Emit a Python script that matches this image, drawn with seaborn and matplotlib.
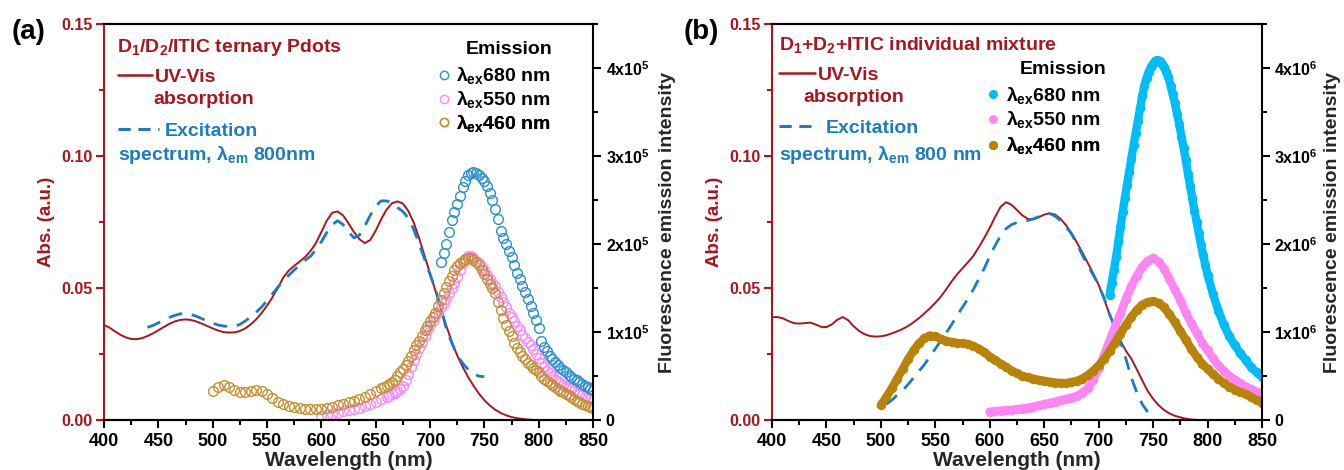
import matplotlib
matplotlib.use("Agg")
import matplotlib.pyplot as plt
from matplotlib.lines import Line2D
from matplotlib.ticker import MultipleLocator, FormatStrFormatter
import seaborn as sns

# ---------------- panel (a): D1/D2/ITIC ternary Pdots ----------------
a_abs_wl = list(range(400, 805, 5))
a_abs = [
    0.0360, 0.0350, 0.0336, 0.0323, 0.0313, 0.0307, 0.0306, 0.0310, 0.0318, 0.0328,
    0.0340, 0.0352, 0.0364, 0.0373, 0.0379, 0.0381, 0.0379, 0.0373, 0.0365, 0.0356,
    0.0347, 0.0339, 0.0333, 0.0331, 0.0332, 0.0337, 0.0347, 0.0362, 0.0381, 0.0405,
    0.0433, 0.0465, 0.0500, 0.0540, 0.0566, 0.0584, 0.0600, 0.0617, 0.0640, 0.0670,
    0.0712, 0.0755, 0.0785, 0.0790, 0.0775, 0.0745, 0.0712, 0.0685, 0.0670, 0.0682,
    0.0717, 0.0760, 0.0797, 0.0821, 0.0828, 0.0820, 0.0792, 0.0748, 0.0688, 0.0622,
    0.0555, 0.0490, 0.0422, 0.0357, 0.0297, 0.0245, 0.0202, 0.0163, 0.0130, 0.0100,
    0.0075, 0.0055, 0.0039, 0.0027, 0.0018, 0.0011, 0.0007, 0.0004, 0.0002, 0.0000,
    0.0000,
]
a_exc_wl = list(range(440, 755, 5))
a_exc = [
    0.0351, 0.0358, 0.0368, 0.0378, 0.0388, 0.0396, 0.0402, 0.0404, 0.0400, 0.0393,
    0.0384, 0.0375, 0.0367, 0.0360, 0.0356, 0.0354, 0.0355, 0.0362, 0.0375, 0.0390,
    0.0408, 0.0428, 0.0452, 0.0478, 0.0503, 0.0527, 0.0548, 0.0568, 0.0588, 0.0605,
    0.0620, 0.0645, 0.0675, 0.0710, 0.0740, 0.0755, 0.0740, 0.0712, 0.0690, 0.0700,
    0.0735, 0.0775, 0.0810, 0.0830, 0.0830, 0.0822, 0.0805, 0.0790, 0.0765, 0.0722,
    0.0668, 0.0610, 0.0552, 0.0495, 0.0425, 0.0345, 0.0292, 0.0245, 0.0215, 0.0192,
    0.0175, 0.0166, 0.0164,
]
# emission readings: 5 nm steps on the flat part, 2.5 nm steps around the band
a_em460_wl = [500 + 5 * i for i in range(32)] + [657.5 + 2.5 * i for i in range(78)]
a_em460 = [
    3.3e4, 3.8e4, 4.0e4, 3.8e4, 3.4e4, 3.2e4, 3.2e4, 3.3e4, 3.4e4, 3.3e4,
    2.9e4, 2.5e4, 2.1e4, 1.8e4, 1.6e4, 1.45e4, 1.35e4, 1.3e4, 1.25e4, 1.22e4,
    1.25e4, 1.35e4, 1.5e4, 1.65e4, 1.8e4, 2.0e4, 2.2e4, 2.4e4, 2.6e4, 2.9e4,
    3.3e4, 3.6e4,
    3.75e4, 3.9e4, 4.1e4, 4.3e4, 4.6e4, 5.0e4, 5.4e4, 5.8e4, 6.2e4, 6.7e4,
    7.3e4, 7.9e4, 8.5e4, 9.0e4, 9.6e4, 1.02e5, 1.07e5, 1.12e5, 1.17e5, 1.22e5,
    1.29e5, 1.36e5, 1.44e5, 1.51e5, 1.58e5, 1.64e5, 1.70e5, 1.75e5, 1.78e5, 1.81e5,
    1.83e5, 1.84e5, 1.84e5, 1.82e5, 1.79e5, 1.76e5, 1.71e5, 1.66e5, 1.60e5, 1.55e5,
    1.50e5, 1.44e5, 1.34e5, 1.25e5, 1.16e5, 1.08e5, 1.01e5, 9.5e4, 8.8e4, 8.2e4,
    7.7e4, 7.3e4, 6.9e4, 6.5e4, 6.2e4, 5.9e4, 5.65e4, 5.4e4, 5.0e4, 4.7e4,
    4.45e4, 4.2e4, 3.95e4, 3.7e4, 3.5e4, 3.3e4, 3.15e4, 3.0e4, 2.8e4, 2.6e4,
    2.4e4, 2.2e4, 2.0e4, 1.8e4, 1.65e4, 1.55e4, 1.45e4, 1.4e4,
]
a_em550_wl = [600 + 5 * i for i in range(13)] + [662.5 + 2.5 * i for i in range(76)]
a_em550 = [
    4.0e3, 5.5e3, 7.0e3, 8.5e3, 1.0e4, 1.12e4, 1.25e4, 1.4e4, 1.6e4, 1.85e4,
    2.1e4, 2.35e4, 2.6e4,
    2.75e4, 2.9e4, 3.1e4, 3.3e4, 3.55e4, 3.9e4, 4.5e4, 5.2e4, 6.0e4, 6.8e4,
    7.5e4, 8.2e4, 8.9e4, 9.6e4, 1.02e5, 1.08e5, 1.13e5, 1.18e5, 1.23e5, 1.28e5,
    1.33e5, 1.38e5, 1.44e5, 1.5e5, 1.56e5, 1.62e5, 1.70e5, 1.78e5, 1.83e5, 1.86e5,
    1.86e5, 1.84e5, 1.81e5, 1.78e5, 1.74e5, 1.7e5, 1.65e5, 1.6e5, 1.56e5, 1.52e5,
    1.46e5, 1.4e5, 1.34e5, 1.28e5, 1.22e5, 1.17e5, 1.12e5, 1.07e5, 1.02e5, 9.7e4,
    9.3e4, 8.9e4, 8.5e4, 8.1e4, 7.5e4, 7.0e4, 6.5e4, 6.0e4, 5.6e4, 5.3e4,
    5.0e4, 4.7e4, 4.45e4, 4.2e4, 4.0e4, 3.8e4, 3.65e4, 3.5e4, 3.3e4, 3.1e4,
    2.95e4, 2.8e4, 2.65e4, 2.5e4, 2.4e4, 2.3e4,
]
a_em680_wl = [710 + 2.5 * i for i in range(57)]
a_em680 = [
    1.8e5, 1.9e5, 2.0e5, 2.14e5, 2.27e5, 2.36e5, 2.45e5, 2.55e5, 2.65e5, 2.72e5,
    2.78e5, 2.81e5, 2.82e5, 2.81e5, 2.78e5, 2.75e5, 2.72e5, 2.66e5, 2.58e5, 2.5e5,
    2.4e5, 2.28e5, 2.15e5, 2.07e5, 2.0e5, 1.92e5, 1.85e5, 1.76e5, 1.67e5, 1.6e5,
    1.52e5, 1.45e5, 1.38e5, 1.3e5, 1.22e5, 1.14e5, 1.05e5, 9.0e4, 8.3e4, 7.8e4,
    7.3e4, 6.95e4, 6.6e4, 6.25e4, 5.9e4, 5.65e4, 5.4e4, 5.15e4, 4.9e4, 4.7e4,
    4.5e4, 4.3e4, 4.1e4, 3.9e4, 3.7e4, 3.55e4, 3.4e4,
]

# ---------------- panel (b): D1+D2+ITIC individual mixture ----------------
b_abs_wl = list(range(400, 800, 5))
b_abs = [
    0.0389, 0.0390, 0.0385, 0.0375, 0.0367, 0.0365, 0.0367, 0.0369, 0.0362, 0.0353,
    0.0352, 0.0362, 0.0380, 0.0390, 0.0378, 0.0355, 0.0337, 0.0325, 0.0318, 0.0316,
    0.0317, 0.0321, 0.0328, 0.0336, 0.0345, 0.0356, 0.0370, 0.0386, 0.0404, 0.0423,
    0.0444, 0.0467, 0.0495, 0.0525, 0.0552, 0.0575, 0.0598, 0.0622, 0.0655, 0.0690,
    0.0728, 0.0770, 0.0808, 0.0825, 0.0815, 0.0795, 0.0775, 0.0762, 0.0760, 0.0768,
    0.0778, 0.0783, 0.0778, 0.0762, 0.0738, 0.0708, 0.0672, 0.0635, 0.0595, 0.0555,
    0.0512, 0.0458, 0.0400, 0.0350, 0.0300, 0.0262, 0.0232, 0.0192, 0.0150, 0.0110,
    0.0080, 0.0056, 0.0038, 0.0025, 0.0016, 0.0010, 0.0005, 0.0002, 0.0000, 0.0000,
]
b_exc_wl = list(range(505, 750, 5))
b_exc = [
    0.0060, 0.0075, 0.0095, 0.0112, 0.0135, 0.0160, 0.0185, 0.0210, 0.0240, 0.0270,
    0.0300, 0.0330, 0.0362, 0.0395, 0.0428, 0.0460, 0.0495, 0.0535, 0.0575, 0.0620,
    0.0662, 0.0698, 0.0725, 0.0740, 0.0748, 0.0752, 0.0756, 0.0762, 0.0770, 0.0778,
    0.0782, 0.0772, 0.0755, 0.0732, 0.0705, 0.0668, 0.0625, 0.0585, 0.0550, 0.0510,
    0.0462, 0.0400, 0.0350, 0.0298, 0.0232, 0.0160, 0.0105, 0.0060, 0.0030,
]
b_em460_wl = list(range(500, 855, 5))
b_em460 = [
    1.7e5, 2.6e5, 3.6e5, 4.7e5, 5.8e5, 6.9e5, 7.9e5, 8.7e5, 9.3e5, 9.6e5,
    9.5e5, 9.2e5, 9.0e5, 8.85e5, 8.75e5, 8.7e5, 8.6e5, 8.4e5, 8.1e5, 7.7e5,
    7.2e5, 6.8e5, 6.4e5, 6.0e5, 5.6e5, 5.3e5, 5.0e5, 4.85e5, 4.7e5, 4.55e5,
    4.45e5, 4.35e5, 4.25e5, 4.2e5, 4.2e5, 4.3e5, 4.45e5, 4.7e5, 5.1e5, 5.6e5,
    6.2e5, 6.9e5, 7.8e5, 8.8e5, 9.8e5, 1.08e6, 1.17e6, 1.25e6, 1.31e6, 1.34e6,
    1.35e6, 1.33e6, 1.28e6, 1.2e6, 1.11e6, 1.01e6, 9.1e5, 8.1e5, 7.2e5, 6.4e5,
    5.8e5, 5.2e5, 4.7e5, 4.2e5, 3.8e5, 3.45e5, 3.15e5, 2.95e5, 2.6e5, 2.25e5,
    1.95e5,
]
b_em550_wl = list(range(600, 855, 5))
b_em550 = [
    9.5e4, 1.0e5, 1.05e5, 1.1e5, 1.15e5, 1.22e5, 1.3e5, 1.4e5, 1.52e5, 1.65e5,
    1.8e5, 1.95e5, 2.1e5, 2.25e5, 2.4e5, 2.55e5, 2.75e5, 3.1e5, 3.6e5, 4.6e5,
    5.9e5, 7.4e5, 9.0e5, 1.06e6, 1.21e6, 1.38e6, 1.52e6, 1.64e6, 1.74e6, 1.81e6,
    1.84e6, 1.80e6, 1.72e6, 1.6e6, 1.48e6, 1.36e6, 1.22e6, 1.1e6, 9.9e5, 8.8e5,
    7.9e5, 7.0e5, 6.2e5, 5.6e5, 5.0e5, 4.6e5, 4.2e5, 3.8e5, 3.5e5, 3.2e5,
    3.0e5,
]
b_em680_wl = list(range(710, 802, 2)) + list(range(805, 855, 5))
b_em680 = [
    1.42e6, 1.56e6, 1.71e6, 1.85e6, 2.02e6, 2.19e6, 2.36e6, 2.52e6, 2.67e6, 2.82e6,
    2.97e6, 3.12e6, 3.26e6, 3.40e6, 3.54e6, 3.68e6, 3.80e6, 3.89e6, 3.96e6, 4.01e6,
    4.05e6, 4.08e6, 4.09e6, 4.08e6, 4.05e6, 4.01e6, 3.96e6, 3.90e6, 3.80e6, 3.70e6,
    3.60e6, 3.48e6, 3.36e6, 3.22e6, 3.09e6, 2.95e6, 2.80e6, 2.66e6, 2.52e6, 2.38e6,
    2.25e6, 2.12e6, 1.99e6, 1.87e6, 1.76e6, 1.65e6,
    1.43e6, 1.24e6, 1.08e6, 9.5e5, 8.5e5, 7.6e5, 6.8e5, 6.0e5, 5.4e5, 4.9e5,
]

# legend / label texts
emission_labels = [r"$\lambda_{ex}$680 nm", r"$\lambda_{ex}$550 nm", r"$\lambda_{ex}$460 nm"]

# ---------------- styling ----------------
RED = "#a8161e"
BLUE = "#1b7cc0"
A_COLORS = ["#2b8fd0", "#ff88ff", "#c4902f"]     # 680, 550, 460 (open circles)
B_COLORS = ["#00bdf7", "#ff85f5", "#b98209"]     # 680, 550, 460 (filled dots)

sns.set_theme(style="ticks")
FONT = "Liberation Sans"
plt.rcParams.update({
    "font.family": [FONT, "DejaVu Sans"],
    "font.weight": "bold",
    "axes.labelweight": "bold",
    "mathtext.fontset": "custom",
    "mathtext.rm": f"{FONT}:bold",
    "mathtext.it": f"{FONT}:bold",
    "mathtext.bf": f"{FONT}:bold",
    "mathtext.sf": f"{FONT}:bold",
    "axes.edgecolor": "black",
    "axes.linewidth": 1.5,
})

W, H = 1344, 470


def fx(px):
    return px / W


def fy(py):
    return 1 - py / H


fig = plt.figure(figsize=(W / 100, H / 100), dpi=100)
fig.patch.set_facecolor("white")


def style_axes(ax, ax2, top, exp, rpad):
    ax.set_xlim(400, 850)
    ax.set_ylim(0, 0.15)
    ax2.set_ylim(0, top)
    ax.set_xlabel("Wavelength (nm)", fontsize=15, labelpad=1)
    ax.set_ylabel("Abs. (a.u.)", color=RED, fontsize=13.5, labelpad=5)
    ax2.set_ylabel("Fluorescence emission intensity", fontsize=14, labelpad=rpad)
    ax.xaxis.set_major_locator(MultipleLocator(50))
    ax.xaxis.set_minor_locator(MultipleLocator(25))
    ax.yaxis.set_major_locator(MultipleLocator(0.05))
    ax.yaxis.set_minor_locator(MultipleLocator(0.025))
    ax.yaxis.set_major_formatter(FormatStrFormatter("%.2f"))
    ax2.set_yticks([k * 10 ** exp for k in range(5)],
                   labels=["0"] + [f"{k}x10$^{exp}$" for k in range(1, 5)])
    ax2.yaxis.set_minor_locator(MultipleLocator(0.5 * 10 ** exp))

    ax.tick_params(axis="x", which="both", direction="out", width=1.5,
                   colors="black", labelsize=13, pad=3)
    ax.tick_params(axis="x", which="major", length=6)
    ax.tick_params(axis="x", which="minor", length=3.5)
    ax.tick_params(axis="y", which="both", direction="out", width=1.5,
                   colors=RED, labelsize=11.5, pad=2)
    ax.tick_params(axis="y", which="major", length=6)
    ax.tick_params(axis="y", which="minor", length=3.5)
    ax2.tick_params(axis="y", which="both", direction="out", width=1.5,
                    colors="black", labelsize=11.5, pad=3)
    ax2.tick_params(axis="y", which="major", length=6)
    ax2.tick_params(axis="y", which="minor", length=3.5)

    for sp in ax.spines.values():
        sp.set_linewidth(1.5)
        sp.set_color("black")
    ax.spines["left"].set_color(RED)
    ax.spines["right"].set_visible(False)
    for sp in ax2.spines.values():
        sp.set_linewidth(1.5)
        sp.set_color("black")
    ax2.spines["left"].set_visible(False)
    ax.set_facecolor("none")


def key(ax, handle, label, x_px, y_px, color, handlelength, textpad, size=14):
    leg = ax.legend(handles=[handle], labels=[label], loc="center left",
                    bbox_to_anchor=(fx(x_px), fy(y_px)), bbox_transform=fig.transFigure,
                    frameon=False, borderpad=0, borderaxespad=0, numpoints=1,
                    handlelength=handlelength, handletextpad=textpad,
                    prop={"size": size, "weight": "bold"}, labelcolor=color)
    ax.add_artist(leg)


def draw_panel(left_px, width_px, abs_wl, abs_vals, exc_wl, exc_vals, emis, filled,
               top, exp, rpad):
    ax = fig.add_axes([fx(left_px), 50 / H, width_px / W, 396 / H])
    ax2 = ax.twinx()

    sns.lineplot(x=abs_wl, y=abs_vals, ax=ax, color=RED, linewidth=1.4, errorbar=None)
    sns.lineplot(x=exc_wl, y=exc_vals, ax=ax, color=BLUE, linewidth=2.0,
                 linestyle=(0, (5, 3.5)), errorbar=None)

    for wl, vals, col in emis:
        if filled:
            sns.lineplot(x=wl, y=vals, ax=ax2, color=col, linewidth=6,
                         marker="o", markersize=6.8, markeredgewidth=0,
                         markerfacecolor=col, solid_capstyle="round", errorbar=None)
        else:
            sns.lineplot(x=wl, y=vals, ax=ax2, color=col, linestyle="none",
                         marker="o", markersize=7, markerfacecolor="none",
                         markeredgecolor=col, markeredgewidth=1.0, errorbar=None)

    style_axes(ax, ax2, top, exp, rpad)
    return ax, ax2


# panel (a)
axA, axA2 = draw_panel(
    104, 489, a_abs_wl, a_abs, a_exc_wl, a_exc,
    [(a_em550_wl, a_em550, A_COLORS[1]), (a_em460_wl, a_em460, A_COLORS[2]),
     (a_em680_wl, a_em680, A_COLORS[0])],
    False, 4.5e5, 5, 7)

# panel (b)
axB, axB2 = draw_panel(
    772, 490, b_abs_wl, b_abs, b_exc_wl, b_exc,
    [(b_em680_wl, b_em680, B_COLORS[0]), (b_em550_wl, b_em550, B_COLORS[1]),
     (b_em460_wl, b_em460, B_COLORS[2])],
    True, 4.5e6, 6, 4)

# panel tags
fig.text(fx(12), fy(32), "(a)", fontsize=20, fontweight="bold", color="black", va="center")
fig.text(fx(684), fy(32), "(b)", fontsize=20, fontweight="bold", color="black", va="center")

# annotations, panel (a)
fig.text(fx(117), fy(47), r"D$_1$/D$_2$/ITIC ternary Pdots", fontsize=14, color=RED, va="center")
fig.text(fx(153), fy(100), "absorption", fontsize=14, color=RED, va="center")
fig.text(fx(118), fy(155), r"spectrum, $\lambda_{em}$ 800nm", fontsize=14, color=BLUE, va="center")
fig.text(fx(466), fy(50), "Emission", fontsize=14, color="black", va="center")

uv = Line2D([], [], color=RED, linewidth=1.8)
ex = Line2D([], [], color=BLUE, linewidth=2.2, linestyle=(0, (4, 2.5)))
key(axA2, uv, "UV-Vis", 118, 77, RED, 1.75, 0.15)
key(axA2, ex, "Excitation", 118, 131, BLUE, 2.1, 0.3)
for lab, col, y in zip(emission_labels, A_COLORS, [76, 100, 123]):
    h = Line2D([], [], linestyle="none", marker="o", markersize=6,
               markerfacecolor="none", markeredgecolor=col, markeredgewidth=1.0)
    key(axA2, h, lab, 438, y, "black", 0.6, 0.35)

# annotations, panel (b)
fig.text(fx(779), fy(45), r"D$_1$+D$_2$+ITIC individual mixture", fontsize=14, color=RED, va="center")
fig.text(fx(803), fy(97), "absorption", fontsize=14, color=RED, va="center")
fig.text(fx(779), fy(155), r"spectrum, $\lambda_{em}$ 800 nm", fontsize=14, color=BLUE, va="center")
fig.text(fx(1020), fy(70), "Emission", fontsize=14, color="black", va="center")

key(axB2, uv, "UV-Vis", 779, 75, RED, 1.85, 0.15)
key(axB2, ex, "Excitation", 779, 128, BLUE, 1.95, 0.45)
for lab, col, y in zip(emission_labels, B_COLORS, [95, 120, 146]):
    h = Line2D([], [], linestyle="none", marker="o", markersize=6.5,
               markerfacecolor=col, markeredgewidth=0)
    key(axB2, h, lab, 987, y, "black", 0.6, 0.4)

fig.savefig("out.png", dpi=100, facecolor="white")
